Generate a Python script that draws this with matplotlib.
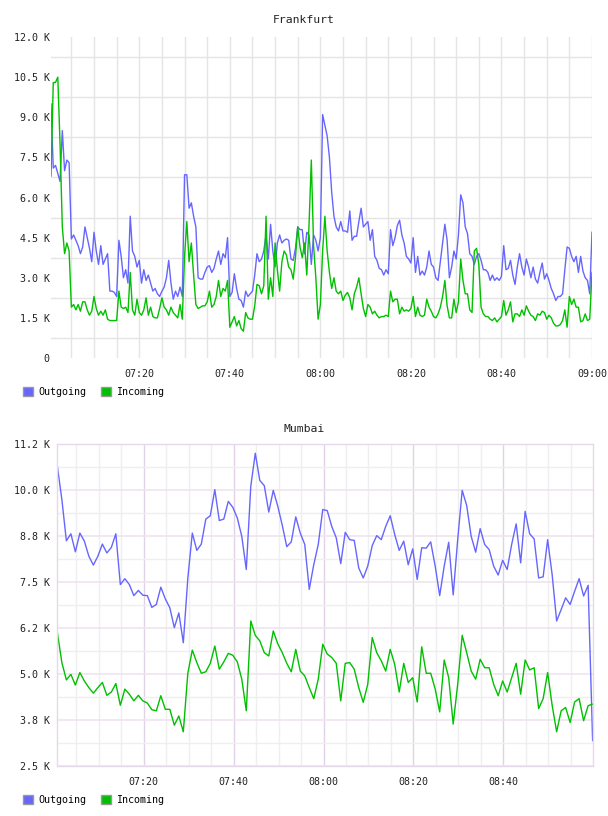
import pandas as pd
import matplotlib

matplotlib.use("Agg")
import matplotlib.pyplot as plt
import matplotlib.dates as mdates
from matplotlib.patches import Patch
from matplotlib.ticker import FixedLocator, FuncFormatter

OUT_COLOR = "#6666ff"
IN_COLOR = "#00c000"
FONT = "DejaVu Sans Mono"

# Frankfurt: 30 s samples starting 07:00:30, values in K
fra_times = pd.date_range("2024-01-01 07:00:30", periods=240, freq="30s")
fra_out = [
    9.5, 7.1, 7.2, 6.9, 6.6, 8.5, 7.0, 7.4, 7.3, 4.45,
    4.6, 4.4, 4.2, 3.9, 4.15, 4.9, 4.5, 4.1, 3.6, 4.7,
    4.0, 3.5, 4.2, 3.5, 3.7, 3.9, 2.5, 2.5, 2.45, 2.3,
    4.4, 3.8, 3.0, 3.3, 2.8, 5.3, 4.0, 3.8, 3.4, 3.65,
    2.8, 3.3, 2.9, 3.1, 2.8, 2.5, 2.6, 2.4, 2.3, 2.5,
    2.65, 3.0, 3.65, 2.8, 2.2, 2.5, 2.3, 2.65, 2.3, 6.85,
    6.85, 5.6, 5.8, 5.3, 4.9, 3.0, 2.95, 2.95, 3.2, 3.4,
    3.45, 3.2, 3.35, 3.7, 4.0, 3.5, 3.9, 3.75, 4.5, 2.3,
    2.45, 3.15, 2.6, 2.2, 2.15, 1.9, 2.5, 2.3, 2.4, 2.5,
    3.1, 3.9, 3.6, 3.7, 4.0, 4.6, 3.7, 5.0, 4.0, 3.4,
    4.3, 4.6, 4.3, 4.4, 4.45, 4.4, 3.7, 3.65, 4.1, 4.9,
    4.8, 4.8, 3.9, 4.7, 4.6, 3.5, 4.6, 4.4, 4.0, 4.5,
    9.1, 8.7, 8.3, 7.5, 6.2, 5.3, 4.9, 4.75, 5.1, 4.75,
    4.75, 4.7, 5.5, 4.4, 4.55, 4.55, 5.1, 5.6, 4.9, 5.0,
    5.1, 4.4, 4.8, 3.8, 3.65, 3.35, 3.3, 3.1, 3.3, 3.15,
    4.8, 4.2, 4.5, 4.95, 5.15, 4.6, 4.3, 3.8, 3.7, 3.55,
    4.5, 3.2, 3.8, 3.1, 3.25, 3.1, 3.4, 4.0, 3.5, 3.4,
    3.0, 2.9, 3.6, 4.3, 5.0, 4.4, 3.0, 3.4, 4.0, 3.7,
    4.6, 6.1, 5.8, 4.9, 4.65, 3.9, 3.8, 3.5, 3.8, 3.9,
    3.65, 3.3, 3.3, 3.2, 2.9, 3.1, 2.9, 3.0, 2.9, 3.05,
    4.2, 3.3, 3.35, 3.65, 3.1, 2.75, 3.4, 3.9, 3.4, 3.1,
    3.7, 3.4, 3.0, 3.4, 2.95, 2.8, 3.2, 3.55, 2.95, 3.15,
    2.9, 2.6, 2.4, 2.15, 2.3, 2.3, 2.4, 3.3, 4.15, 4.1,
    3.8, 3.6, 3.8, 3.2, 3.8, 3.25, 3.0, 2.9, 2.4, 4.7,
]
fra_in = [
    6.8, 10.3, 10.3, 10.5, 8.0, 4.9, 3.9, 4.3, 4.0, 1.9,
    2.0, 1.8, 2.0, 1.75, 2.1, 2.1, 1.8, 1.6, 1.75, 2.3,
    1.85, 1.6, 1.75, 1.6, 1.8, 1.45, 1.4, 1.4, 1.4, 1.4,
    2.5, 1.9, 1.85, 1.9, 1.7, 3.2, 1.8, 1.6, 2.2, 1.7,
    1.6, 1.8, 2.25, 1.6, 1.9, 1.55, 1.5, 1.5, 1.85, 2.25,
    1.9, 1.8, 1.6, 1.9, 1.7, 1.6, 1.5, 2.0, 1.45, 3.8,
    5.1, 3.6, 4.3, 3.1, 2.0, 1.85, 1.9, 1.95, 1.95, 2.1,
    2.5, 1.9, 2.0, 2.3, 2.9, 2.3, 2.6, 2.5, 2.9, 1.15,
    1.35, 1.55, 1.2, 1.4, 1.1, 1.0, 1.7, 1.5, 1.45, 1.45,
    1.95, 2.75, 2.7, 2.4, 2.7, 5.3, 2.2, 3.0, 2.3, 4.3,
    3.3, 2.5, 3.6, 4.0, 3.85, 3.4, 3.3, 2.95, 3.75, 4.9,
    4.15, 3.75, 4.3, 3.1, 5.0, 7.4, 4.2, 3.0, 1.45, 2.0,
    4.0, 5.3, 4.0, 3.2, 2.6, 3.0, 2.5, 2.4, 2.5, 2.15,
    2.35, 2.45, 2.25, 1.8, 2.4, 2.65, 3.0, 2.4, 1.85, 1.55,
    2.0, 1.9, 1.65, 1.75, 1.6, 1.5, 1.55, 1.55, 1.6, 1.55,
    2.5, 2.1, 2.2, 2.2, 1.65, 1.9, 1.75, 1.8, 1.75, 1.85,
    2.3, 1.55, 1.9, 1.6, 1.55, 1.6, 2.2, 1.9, 1.75, 1.55,
    1.5, 1.65, 1.9, 2.3, 2.9, 1.95, 1.5, 1.5, 2.2, 1.7,
    2.1, 3.7, 2.9, 2.4, 2.4, 1.8, 1.7, 4.0, 4.1, 3.5,
    1.9, 1.65, 1.55, 1.55, 1.45, 1.4, 1.5, 1.35, 1.45, 1.55,
    2.15, 1.6, 1.8, 2.1, 1.35, 1.65, 1.65, 1.55, 1.8, 1.6,
    1.95, 1.75, 1.6, 1.55, 1.4, 1.65, 1.6, 1.75, 1.7, 1.45,
    1.6, 1.5, 1.3, 1.2, 1.2, 1.25, 1.4, 1.8, 1.15, 2.3,
    2.0, 2.2, 1.9, 1.9, 1.35, 1.4, 1.65, 1.4, 1.45, 3.2,
]

# Mumbai: 1 min samples starting 07:00:50, values in K
mum_times = pd.date_range("2024-01-01 07:00:50", periods=120, freq="1min")
mum_out = [
    10.64, 9.74, 8.62, 8.81, 8.32, 8.83, 8.61, 8.20, 7.96, 8.20,
    8.53, 8.29, 8.44, 8.81, 7.43, 7.59, 7.43, 7.13, 7.27, 7.14,
    7.13, 6.81, 6.89, 7.36, 7.04, 6.80, 6.26, 6.66, 5.85, 7.60,
    8.83, 8.36, 8.53, 9.21, 9.30, 10.01, 9.17, 9.21, 9.69, 9.53,
    9.24, 8.74, 7.84, 10.10, 11.00, 10.26, 10.12, 9.40, 9.99, 9.56,
    9.04, 8.46, 8.59, 9.27, 8.83, 8.52, 7.30, 7.97, 8.52, 9.47,
    9.44, 9.01, 8.70, 8.00, 8.85, 8.65, 8.63, 7.88, 7.61, 7.93,
    8.49, 8.76, 8.65, 9.01, 9.30, 8.79, 8.36, 8.61, 7.97, 8.40,
    7.57, 8.43, 8.42, 8.59, 7.93, 7.13, 7.93, 8.58, 7.15, 8.65,
    9.99, 9.58, 8.74, 8.31, 8.95, 8.52, 8.38, 7.93, 7.69, 8.09,
    7.84, 8.52, 9.08, 8.02, 9.42, 8.81, 8.67, 7.61, 7.64, 8.65,
    7.70, 6.44, 6.75, 7.07, 6.89, 7.25, 7.59, 7.12, 7.41, 3.19,
]
mum_in = [
    6.12, 5.31, 4.84, 4.99, 4.70, 5.04, 4.81, 4.63, 4.48, 4.63,
    4.77, 4.42, 4.51, 4.74, 4.15, 4.59, 4.45, 4.27, 4.42, 4.27,
    4.21, 4.03, 4.00, 4.41, 4.04, 4.04, 3.61, 3.86, 3.43, 5.02,
    5.65, 5.31, 5.02, 5.06, 5.29, 5.76, 5.13, 5.33, 5.56, 5.51,
    5.33, 4.86, 4.00, 6.44, 6.05, 5.90, 5.58, 5.49, 6.17, 5.82,
    5.58, 5.29, 5.06, 5.67, 5.08, 4.95, 4.63, 4.33, 4.86, 5.81,
    5.54, 5.45, 5.29, 4.27, 5.29, 5.31, 5.13, 4.63, 4.23, 4.72,
    5.99, 5.58, 5.36, 5.08, 5.67, 5.26, 4.51, 5.29, 4.77, 4.90,
    4.24, 5.74, 5.02, 5.02, 4.59, 3.97, 5.38, 4.90, 3.64, 4.72,
    6.05, 5.58, 5.08, 4.86, 5.40, 5.17, 5.17, 4.72, 4.41, 4.81,
    4.51, 4.90, 5.29, 4.45, 5.38, 5.11, 5.17, 4.06, 4.33, 5.04,
    4.15, 3.43, 4.00, 4.09, 3.68, 4.24, 4.33, 3.73, 4.14, 4.18,
]

fra_yticks = [0, 1.5, 3.0, 4.5, 6.0, 7.5, 9.0, 10.5, 12.0]
fra_ygrid = [0.75, 2.25, 3.75, 5.25, 6.75, 8.25, 9.75, 11.25]
mum_yticks = [2.5, 3.75, 5.0, 6.25, 7.5, 8.75, 10.0, 11.25]
mum_ygrid = [3.125, 4.375, 5.625, 6.875, 8.125, 9.375, 10.625]


def k_label(v, pos):
    return "0" if v == 0 else f"{v:.1f} K"


def draw_panel(ax, times, out_vals, in_vals, xlim, yticks, ygrid, frame, ypad):
    ax.plot(times, out_vals, color=OUT_COLOR, lw=1.0)
    ax.plot(times, in_vals, color=IN_COLOR, lw=1.0)
    ax.set_xlim(pd.Timestamp(xlim[0]), pd.Timestamp(xlim[1]))
    ax.set_ylim(yticks[0], yticks[-1])
    ax.set_axisbelow(True)

    ax.xaxis.set_major_locator(mdates.MinuteLocator(byminute=[0, 20, 40]))
    ax.xaxis.set_minor_locator(mdates.MinuteLocator(byminute=range(0, 60, 5)))
    ax.xaxis.set_major_formatter(mdates.DateFormatter("%H:%M"))
    ax.yaxis.set_major_locator(FixedLocator(yticks))
    ax.yaxis.set_minor_locator(FixedLocator(ygrid))
    ax.yaxis.set_major_formatter(FuncFormatter(k_label))

    ax.tick_params(which="both", length=0, labelsize=7.2, colors="#222222")
    ax.tick_params(axis="x", pad=8)
    ax.tick_params(axis="y", pad=ypad)
    for lab in ax.get_xticklabels() + ax.get_yticklabels():
        lab.set_fontfamily(FONT)

    if frame:
        ax.grid(which="major", axis="x", color="#e2d2e6", lw=1.0)
        ax.grid(which="major", axis="y", color="#f0e4f0", lw=1.2)
        ax.grid(which="minor", axis="both", color="#efefef", lw=1.0)
        for sp in ax.spines.values():
            sp.set_color("#e8d8ec")
            sp.set_linewidth(1.0)
    else:
        ax.grid(which="major", axis="x", color="#e5e5e5", lw=1.0)
        ax.grid(which="minor", axis="both", color="#e5e5e5", lw=1.0)
        for sp in ax.spines.values():
            sp.set_visible(False)


def add_legend(fig, y_px):
    handles = [
        Patch(facecolor=OUT_COLOR, edgecolor="#999999", label="Outgoing"),
        Patch(facecolor=IN_COLOR, edgecolor="#999999", label="Incoming"),
    ]
    fig.legend(
        handles=handles, loc="center left", ncol=2, frameon=False,
        bbox_to_anchor=(23 / 608, 1 - y_px / 816), bbox_transform=fig.transFigure,
        handlelength=1.0, handleheight=1.0, handletextpad=0.5,
        columnspacing=1.5, borderpad=0, borderaxespad=0,
        prop={"family": FONT, "size": 7.2},
    )


fig = plt.figure(figsize=(6.08, 8.16), dpi=100)
fig.patch.set_facecolor("white")

ax1 = fig.add_axes([51 / 608, 1 - 358 / 816, 541 / 608, 321 / 816])
draw_panel(ax1, fra_times, fra_out, fra_in,
           ("2024-01-01 07:00:30", "2024-01-01 09:00:00"),
           fra_yticks, fra_ygrid, frame=False, ypad=1)

ax2 = fig.add_axes([57 / 608, 1 - 766 / 816, 536 / 608, 322 / 816])
draw_panel(ax2, mum_times, mum_out, mum_in,
           ("2024-01-01 07:00:45", "2024-01-01 08:59:55"),
           mum_yticks, mum_ygrid, frame=True, ypad=5)

fig.text(0.5, 1 - 20 / 816, "Frankfurt", ha="center", va="center",
         family=FONT, size=8.2, color="#222222")
fig.text(0.5, 1 - 429 / 816, "Mumbai", ha="center", va="center",
         family=FONT, size=8.2, color="#222222")

add_legend(fig, 392)
add_legend(fig, 800)

fig.savefig("out.png", dpi=100, facecolor="white")
plt.close(fig)
